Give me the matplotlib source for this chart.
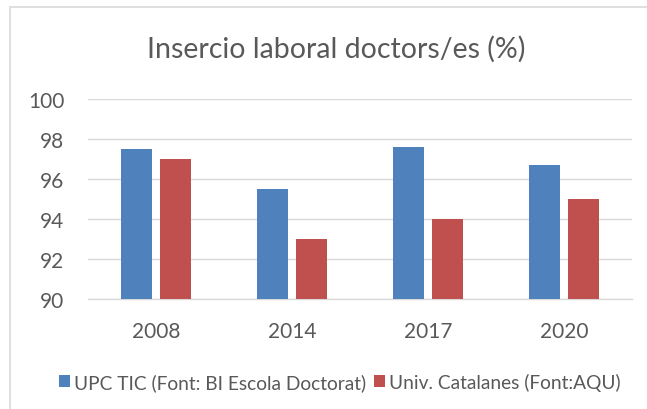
import matplotlib.pyplot as plt
import matplotlib.patches as mpatches
import numpy as np

# data
years = ['2008', '2014', '2017', '2020']
upc_tic = [97.5, 95.5, 97.6, 96.7]
univ_cat = [97.0, 93.0, 94.0, 95.0]
labels = ['UPC TIC (Font: BI Escola Doctorat)', 'Univ. Catalanes (Font:AQU)']

plt.rcParams['font.family'] = ['Lato', 'DejaVu Sans']
txt = '#595959'
grid = '#d9d9d9'

fig = plt.figure(figsize=(6.47, 4.10), dpi=100)
W, H = 647, 410
ax = fig.add_axes([88 / W, 1 - 300 / H, (632 - 88) / W, 200 / H])

x = np.arange(len(years))
w = 0.228
b1 = ax.bar(x - 0.145, upc_tic, w, color='#4F81BD', zorder=3, label=labels[0])
b2 = ax.bar(x + 0.145, univ_cat, w, color='#C0504D', zorder=3, label=labels[1])

ax.set_xlim(-0.5, len(years) - 0.5)
ax.set_ylim(90, 100)
ax.set_yticks(np.arange(90, 101, 2))
ax.set_xticks(x)
ax.set_xticklabels(years)
ax.yaxis.grid(True, color=grid, lw=1.0, zorder=0)
for s in ['left', 'right', 'top']:
    ax.spines[s].set_visible(False)
ax.spines['bottom'].set_color(grid)
ax.spines['bottom'].set_linewidth(1.0)
ax.tick_params(axis='both', length=0, labelsize=15, colors=txt)
ax.tick_params(axis='y', pad=17)
ax.tick_params(axis='x', pad=16)

fig.text(336 / W, 1 - 58 / H, 'Insercio laboral doctors/es (%)', ha='center',
         va='baseline', fontsize=20.5, color=txt)

fig.legend(handles=[b1, b2], loc='center', bbox_to_anchor=(340 / W, 1 - 383 / H),
           ncol=2, frameon=False, fontsize=13.8, labelcolor=txt,
           handlelength=0.55, handleheight=0.55, handletextpad=0.25, columnspacing=0.4)

# chart frame
fig.patches.append(mpatches.Rectangle((10 / W, -0.1), 1.2, 1 - 8 / H + 0.1,
                                      transform=fig.transFigure, fill=False,
                                      edgecolor=grid, lw=1.2))

fig.savefig('out.png', dpi=100)
